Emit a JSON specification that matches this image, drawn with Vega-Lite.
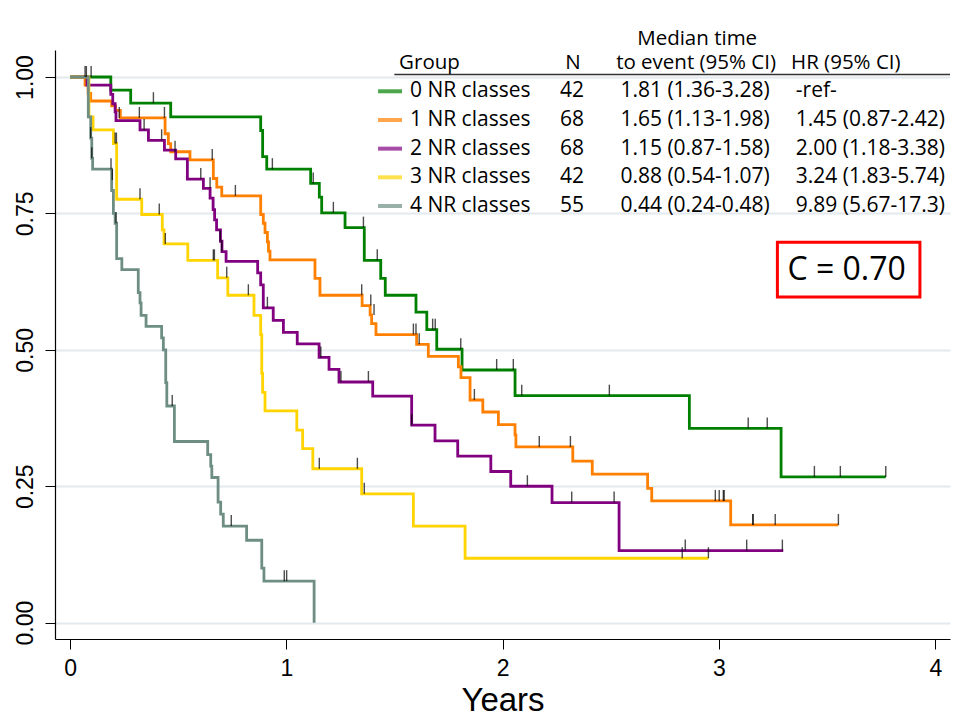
{
  "$schema": "https://vega.github.io/schema/vega-lite/v6.json",
  "width": 895,
  "height": 589,
  "autosize": {"type": "none"},
  "padding": {"left": 55, "top": 50, "right": 10, "bottom": 81},
  "background": "#ffffff",
  "config": {"view": {"stroke": null}, "font": "Liberation Sans"},
  "datasets": {
    "km": [
      {"group": "0 NR classes", "time": 0, "surv": 1},
      {"group": "0 NR classes", "time": 0.188, "surv": 0.976},
      {"group": "0 NR classes", "time": 0.280, "surv": 0.952},
      {"group": "0 NR classes", "time": 0.465, "surv": 0.927},
      {"group": "0 NR classes", "time": 0.881, "surv": 0.902},
      {"group": "0 NR classes", "time": 0.890, "surv": 0.854},
      {"group": "0 NR classes", "time": 0.909, "surv": 0.831},
      {"group": "0 NR classes", "time": 1.112, "surv": 0.805},
      {"group": "0 NR classes", "time": 1.152, "surv": 0.780},
      {"group": "0 NR classes", "time": 1.163, "surv": 0.751},
      {"group": "0 NR classes", "time": 1.271, "surv": 0.724},
      {"group": "0 NR classes", "time": 1.360, "surv": 0.664},
      {"group": "0 NR classes", "time": 1.436, "surv": 0.631},
      {"group": "0 NR classes", "time": 1.457, "surv": 0.600},
      {"group": "0 NR classes", "time": 1.599, "surv": 0.569},
      {"group": "0 NR classes", "time": 1.649, "surv": 0.537},
      {"group": "0 NR classes", "time": 1.695, "surv": 0.501},
      {"group": "0 NR classes", "time": 1.812, "surv": 0.463},
      {"group": "0 NR classes", "time": 2.057, "surv": 0.416},
      {"group": "0 NR classes", "time": 2.863, "surv": 0.356},
      {"group": "0 NR classes", "time": 3.287, "surv": 0.267},
      {"group": "0 NR classes", "time": 3.771, "surv": 0.267},

      {"group": "1 NR classes", "time": 0, "surv": 1},
      {"group": "1 NR classes", "time": 0.069, "surv": 0.985},
      {"group": "1 NR classes", "time": 0.083, "surv": 0.970},
      {"group": "1 NR classes", "time": 0.095, "surv": 0.956},
      {"group": "1 NR classes", "time": 0.192, "surv": 0.947},
      {"group": "1 NR classes", "time": 0.210, "surv": 0.939},
      {"group": "1 NR classes", "time": 0.232, "surv": 0.925},
      {"group": "1 NR classes", "time": 0.439, "surv": 0.896},
      {"group": "1 NR classes", "time": 0.454, "surv": 0.878},
      {"group": "1 NR classes", "time": 0.465, "surv": 0.863},
      {"group": "1 NR classes", "time": 0.554, "surv": 0.848},
      {"group": "1 NR classes", "time": 0.662, "surv": 0.814},
      {"group": "1 NR classes", "time": 0.678, "surv": 0.798},
      {"group": "1 NR classes", "time": 0.701, "surv": 0.782},
      {"group": "1 NR classes", "time": 0.881, "surv": 0.748},
      {"group": "1 NR classes", "time": 0.893, "surv": 0.732},
      {"group": "1 NR classes", "time": 0.901, "surv": 0.715},
      {"group": "1 NR classes", "time": 0.912, "surv": 0.698},
      {"group": "1 NR classes", "time": 0.917, "surv": 0.681},
      {"group": "1 NR classes", "time": 0.924, "surv": 0.665},
      {"group": "1 NR classes", "time": 1.132, "surv": 0.631},
      {"group": "1 NR classes", "time": 1.155, "surv": 0.600},
      {"group": "1 NR classes", "time": 1.350, "surv": 0.581},
      {"group": "1 NR classes", "time": 1.387, "surv": 0.564},
      {"group": "1 NR classes", "time": 1.394, "surv": 0.548},
      {"group": "1 NR classes", "time": 1.414, "surv": 0.528},
      {"group": "1 NR classes", "time": 1.602, "surv": 0.510},
      {"group": "1 NR classes", "time": 1.656, "surv": 0.488},
      {"group": "1 NR classes", "time": 1.795, "surv": 0.469},
      {"group": "1 NR classes", "time": 1.807, "surv": 0.449},
      {"group": "1 NR classes", "time": 1.849, "surv": 0.408},
      {"group": "1 NR classes", "time": 1.908, "surv": 0.386},
      {"group": "1 NR classes", "time": 1.980, "surv": 0.363},
      {"group": "1 NR classes", "time": 2.057, "surv": 0.344},
      {"group": "1 NR classes", "time": 2.061, "surv": 0.322},
      {"group": "1 NR classes", "time": 2.324, "surv": 0.296},
      {"group": "1 NR classes", "time": 2.414, "surv": 0.272},
      {"group": "1 NR classes", "time": 2.670, "surv": 0.246},
      {"group": "1 NR classes", "time": 2.689, "surv": 0.223},
      {"group": "1 NR classes", "time": 3.054, "surv": 0.179},
      {"group": "1 NR classes", "time": 3.552, "surv": 0.179},

      {"group": "2 NR classes", "time": 0, "surv": 1},
      {"group": "2 NR classes", "time": 0.078, "surv": 0.985},
      {"group": "2 NR classes", "time": 0.188, "surv": 0.968},
      {"group": "2 NR classes", "time": 0.197, "surv": 0.951},
      {"group": "2 NR classes", "time": 0.208, "surv": 0.936},
      {"group": "2 NR classes", "time": 0.212, "surv": 0.920},
      {"group": "2 NR classes", "time": 0.323, "surv": 0.903},
      {"group": "2 NR classes", "time": 0.362, "surv": 0.884},
      {"group": "2 NR classes", "time": 0.436, "surv": 0.866},
      {"group": "2 NR classes", "time": 0.488, "surv": 0.850},
      {"group": "2 NR classes", "time": 0.542, "surv": 0.813},
      {"group": "2 NR classes", "time": 0.616, "surv": 0.796},
      {"group": "2 NR classes", "time": 0.647, "surv": 0.778},
      {"group": "2 NR classes", "time": 0.661, "surv": 0.757},
      {"group": "2 NR classes", "time": 0.668, "surv": 0.738},
      {"group": "2 NR classes", "time": 0.677, "surv": 0.720},
      {"group": "2 NR classes", "time": 0.695, "surv": 0.699},
      {"group": "2 NR classes", "time": 0.702, "surv": 0.680},
      {"group": "2 NR classes", "time": 0.721, "surv": 0.662},
      {"group": "2 NR classes", "time": 0.867, "surv": 0.641},
      {"group": "2 NR classes", "time": 0.881, "surv": 0.619},
      {"group": "2 NR classes", "time": 0.893, "surv": 0.577},
      {"group": "2 NR classes", "time": 0.939, "surv": 0.554},
      {"group": "2 NR classes", "time": 0.986, "surv": 0.532},
      {"group": "2 NR classes", "time": 1.050, "surv": 0.511},
      {"group": "2 NR classes", "time": 1.151, "surv": 0.486},
      {"group": "2 NR classes", "time": 1.197, "surv": 0.464},
      {"group": "2 NR classes", "time": 1.243, "surv": 0.441},
      {"group": "2 NR classes", "time": 1.399, "surv": 0.415},
      {"group": "2 NR classes", "time": 1.579, "surv": 0.362},
      {"group": "2 NR classes", "time": 1.687, "surv": 0.333},
      {"group": "2 NR classes", "time": 1.792, "surv": 0.305},
      {"group": "2 NR classes", "time": 1.945, "surv": 0.277},
      {"group": "2 NR classes", "time": 2.037, "surv": 0.250},
      {"group": "2 NR classes", "time": 2.228, "surv": 0.220},
      {"group": "2 NR classes", "time": 2.538, "surv": 0.132},
      {"group": "2 NR classes", "time": 3.297, "surv": 0.132},

      {"group": "3 NR classes", "time": 0, "surv": 1},
      {"group": "3 NR classes", "time": 0.087, "surv": 0.927},
      {"group": "3 NR classes", "time": 0.106, "surv": 0.903},
      {"group": "3 NR classes", "time": 0.200, "surv": 0.878},
      {"group": "3 NR classes", "time": 0.215, "surv": 0.776},
      {"group": "3 NR classes", "time": 0.331, "surv": 0.748},
      {"group": "3 NR classes", "time": 0.426, "surv": 0.720},
      {"group": "3 NR classes", "time": 0.434, "surv": 0.694},
      {"group": "3 NR classes", "time": 0.544, "surv": 0.664},
      {"group": "3 NR classes", "time": 0.682, "surv": 0.632},
      {"group": "3 NR classes", "time": 0.729, "surv": 0.600},
      {"group": "3 NR classes", "time": 0.850, "surv": 0.563},
      {"group": "3 NR classes", "time": 0.881, "surv": 0.528},
      {"group": "3 NR classes", "time": 0.886, "surv": 0.457},
      {"group": "3 NR classes", "time": 0.890, "surv": 0.422},
      {"group": "3 NR classes", "time": 0.901, "surv": 0.388},
      {"group": "3 NR classes", "time": 1.048, "surv": 0.353},
      {"group": "3 NR classes", "time": 1.075, "surv": 0.319},
      {"group": "3 NR classes", "time": 1.122, "surv": 0.282},
      {"group": "3 NR classes", "time": 1.348, "surv": 0.236},
      {"group": "3 NR classes", "time": 1.587, "surv": 0.177},
      {"group": "3 NR classes", "time": 1.826, "surv": 0.118},
      {"group": "3 NR classes", "time": 2.951, "surv": 0.118},

      {"group": "4 NR classes", "time": 0, "surv": 1},
      {"group": "4 NR classes", "time": 0.084, "surv": 0.927},
      {"group": "4 NR classes", "time": 0.095, "surv": 0.888},
      {"group": "4 NR classes", "time": 0.100, "surv": 0.851},
      {"group": "4 NR classes", "time": 0.104, "surv": 0.831},
      {"group": "4 NR classes", "time": 0.192, "surv": 0.792},
      {"group": "4 NR classes", "time": 0.200, "surv": 0.750},
      {"group": "4 NR classes", "time": 0.208, "surv": 0.732},
      {"group": "4 NR classes", "time": 0.215, "surv": 0.667},
      {"group": "4 NR classes", "time": 0.239, "surv": 0.647},
      {"group": "4 NR classes", "time": 0.315, "surv": 0.605},
      {"group": "4 NR classes", "time": 0.323, "surv": 0.586},
      {"group": "4 NR classes", "time": 0.328, "surv": 0.563},
      {"group": "4 NR classes", "time": 0.351, "surv": 0.543},
      {"group": "4 NR classes", "time": 0.423, "surv": 0.522},
      {"group": "4 NR classes", "time": 0.431, "surv": 0.500},
      {"group": "4 NR classes", "time": 0.442, "surv": 0.440},
      {"group": "4 NR classes", "time": 0.447, "surv": 0.397},
      {"group": "4 NR classes", "time": 0.482, "surv": 0.332},
      {"group": "4 NR classes", "time": 0.636, "surv": 0.308},
      {"group": "4 NR classes", "time": 0.650, "surv": 0.287},
      {"group": "4 NR classes", "time": 0.655, "surv": 0.266},
      {"group": "4 NR classes", "time": 0.684, "surv": 0.221},
      {"group": "4 NR classes", "time": 0.696, "surv": 0.199},
      {"group": "4 NR classes", "time": 0.708, "surv": 0.177},
      {"group": "4 NR classes", "time": 0.816, "surv": 0.151},
      {"group": "4 NR classes", "time": 0.886, "surv": 0.100},
      {"group": "4 NR classes", "time": 0.896, "surv": 0.076},
      {"group": "4 NR classes", "time": 1.128, "surv": 0.0}
    ],
    "censored": [
      {"group": "0 NR classes", "time": 0.097, "surv": 1.0},
      {"group": "0 NR classes", "time": 0.385, "surv": 0.952},
      {"group": "0 NR classes", "time": 0.935, "surv": 0.831},
      {"group": "0 NR classes", "time": 1.124, "surv": 0.805},
      {"group": "0 NR classes", "time": 1.217, "surv": 0.751},
      {"group": "0 NR classes", "time": 1.356, "surv": 0.724},
      {"group": "0 NR classes", "time": 1.420, "surv": 0.664},
      {"group": "0 NR classes", "time": 1.676, "surv": 0.537},
      {"group": "0 NR classes", "time": 1.688, "surv": 0.537},
      {"group": "0 NR classes", "time": 1.806, "surv": 0.501},
      {"group": "0 NR classes", "time": 1.972, "surv": 0.463},
      {"group": "0 NR classes", "time": 2.049, "surv": 0.463},
      {"group": "0 NR classes", "time": 2.088, "surv": 0.416},
      {"group": "0 NR classes", "time": 2.493, "surv": 0.416},
      {"group": "0 NR classes", "time": 3.135, "surv": 0.356},
      {"group": "0 NR classes", "time": 3.223, "surv": 0.356},
      {"group": "0 NR classes", "time": 3.441, "surv": 0.267},
      {"group": "0 NR classes", "time": 3.561, "surv": 0.267},
      {"group": "0 NR classes", "time": 3.771, "surv": 0.267},
      {"group": "1 NR classes", "time": 0.227, "surv": 0.925},
      {"group": "1 NR classes", "time": 0.320, "surv": 0.925},
      {"group": "1 NR classes", "time": 0.436, "surv": 0.925},
      {"group": "1 NR classes", "time": 0.485, "surv": 0.863},
      {"group": "1 NR classes", "time": 0.657, "surv": 0.848},
      {"group": "1 NR classes", "time": 0.764, "surv": 0.782},
      {"group": "1 NR classes", "time": 1.348, "surv": 0.600},
      {"group": "1 NR classes", "time": 1.390, "surv": 0.581},
      {"group": "1 NR classes", "time": 1.405, "surv": 0.564},
      {"group": "1 NR classes", "time": 1.587, "surv": 0.528},
      {"group": "1 NR classes", "time": 1.599, "surv": 0.528},
      {"group": "1 NR classes", "time": 1.614, "surv": 0.510},
      {"group": "1 NR classes", "time": 1.869, "surv": 0.408},
      {"group": "1 NR classes", "time": 2.169, "surv": 0.322},
      {"group": "1 NR classes", "time": 2.313, "surv": 0.322},
      {"group": "1 NR classes", "time": 2.983, "surv": 0.223},
      {"group": "1 NR classes", "time": 3.001, "surv": 0.223},
      {"group": "1 NR classes", "time": 3.020, "surv": 0.223},
      {"group": "1 NR classes", "time": 3.024, "surv": 0.223},
      {"group": "1 NR classes", "time": 3.156, "surv": 0.179},
      {"group": "1 NR classes", "time": 3.158, "surv": 0.179},
      {"group": "1 NR classes", "time": 3.260, "surv": 0.179},
      {"group": "1 NR classes", "time": 3.552, "surv": 0.179},
      {"group": "2 NR classes", "time": 0.342, "surv": 0.903},
      {"group": "2 NR classes", "time": 0.423, "surv": 0.884},
      {"group": "2 NR classes", "time": 0.604, "surv": 0.813},
      {"group": "2 NR classes", "time": 0.647, "surv": 0.796},
      {"group": "2 NR classes", "time": 0.694, "surv": 0.699},
      {"group": "2 NR classes", "time": 0.701, "surv": 0.680},
      {"group": "2 NR classes", "time": 0.912, "surv": 0.577},
      {"group": "2 NR classes", "time": 1.159, "surv": 0.486},
      {"group": "2 NR classes", "time": 1.252, "surv": 0.441},
      {"group": "2 NR classes", "time": 1.379, "surv": 0.441},
      {"group": "2 NR classes", "time": 1.579, "surv": 0.362},
      {"group": "2 NR classes", "time": 2.114, "surv": 0.250},
      {"group": "2 NR classes", "time": 2.319, "surv": 0.220},
      {"group": "2 NR classes", "time": 2.515, "surv": 0.220},
      {"group": "2 NR classes", "time": 2.844, "surv": 0.132},
      {"group": "2 NR classes", "time": 3.128, "surv": 0.132},
      {"group": "2 NR classes", "time": 3.293, "surv": 0.132},
      {"group": "3 NR classes", "time": 0.208, "surv": 0.878},
      {"group": "3 NR classes", "time": 0.214, "surv": 0.878},
      {"group": "3 NR classes", "time": 0.323, "surv": 0.776},
      {"group": "3 NR classes", "time": 0.412, "surv": 0.748},
      {"group": "3 NR classes", "time": 0.440, "surv": 0.694},
      {"group": "3 NR classes", "time": 0.662, "surv": 0.664},
      {"group": "3 NR classes", "time": 0.667, "surv": 0.664},
      {"group": "3 NR classes", "time": 0.724, "surv": 0.632},
      {"group": "3 NR classes", "time": 0.824, "surv": 0.600},
      {"group": "3 NR classes", "time": 1.152, "surv": 0.282},
      {"group": "3 NR classes", "time": 1.328, "surv": 0.282},
      {"group": "3 NR classes", "time": 1.360, "surv": 0.236},
      {"group": "3 NR classes", "time": 2.830, "surv": 0.118},
      {"group": "3 NR classes", "time": 2.951, "surv": 0.118},
      {"group": "4 NR classes", "time": 0.069, "surv": 1.0},
      {"group": "4 NR classes", "time": 0.075, "surv": 1.0},
      {"group": "4 NR classes", "time": 0.095, "surv": 0.888},
      {"group": "4 NR classes", "time": 0.100, "surv": 0.851},
      {"group": "4 NR classes", "time": 0.189, "surv": 0.831},
      {"group": "4 NR classes", "time": 0.195, "surv": 0.811},
      {"group": "4 NR classes", "time": 0.212, "surv": 0.732},
      {"group": "4 NR classes", "time": 0.472, "surv": 0.397},
      {"group": "4 NR classes", "time": 0.745, "surv": 0.177},
      {"group": "4 NR classes", "time": 0.990, "surv": 0.076},
      {"group": "4 NR classes", "time": 1.001, "surv": 0.076}
    ],
    "table": [
      {"group": "0 NR classes", "n": "42", "median": "1.81 (1.36-3.28)", "hr": "\u00a0-ref-"},
      {"group": "1 NR classes", "n": "68", "median": "1.65 (1.13-1.98)", "hr": "1.45 (0.87-2.42)"},
      {"group": "2 NR classes", "n": "68", "median": "1.15 (0.87-1.58)", "hr": "2.00 (1.18-3.38)"},
      {"group": "3 NR classes", "n": "42", "median": "0.88 (0.54-1.07)", "hr": "3.24 (1.83-5.74)"},
      {"group": "4 NR classes", "n": "55", "median": "0.44 (0.24-0.48)", "hr": "9.89 (5.67-17.3)"}
    ]
  },
  "layer": [
    {
      "layer": [
        {
          "data": {"name": "km"},
          "mark": {"type": "line", "interpolate": "step-after", "strokeWidth": 2.8},
          "encoding": {
            "x": {
              "field": "time", "type": "quantitative",
              "scale": {"domain": [-0.07, 4.068], "nice": false, "zero": false},
              "axis": {
                "values": [0, 1, 2, 3, 4], "format": "d", "title": "Years", "grid": false,
                "domainColor": "#000000", "domainWidth": 1.2,
                "tickColor": "#000000", "tickSize": 10, "tickWidth": 1,
                "labelFont": "Liberation Sans", "labelFontSize": 23, "labelColor": "#000000",
                "labelPadding": 8, "labelFlush": false, "labelOverlap": false,
                "titleFont": "Liberation Sans", "titleFontSize": 33, "titleFontWeight": "normal",
                "titleColor": "#000000", "titleBaseline": "alphabetic", "titleY": 71
              }
            },
            "y": {
              "field": "surv", "type": "quantitative",
              "scale": {"domain": [-0.03, 1.0495], "nice": false, "zero": false},
              "axis": {
                "values": [0, 0.25, 0.5, 0.75, 1], "format": ".2f", "title": null,
                "grid": true, "gridColor": "#E3E9EE", "gridWidth": 2,
                "domainColor": "#000000", "domainWidth": 1.2,
                "tickColor": "#000000", "tickSize": 10, "tickWidth": 1,
                "labelFont": "Liberation Sans", "labelFontSize": 23, "labelColor": "#000000",
                "labelAngle": 270, "labelAlign": "center", "labelBaseline": "alphabetic",
                "labelPadding": 13, "labelFlush": false, "labelOverlap": false
              }
            },
            "color": {
              "field": "group", "type": "nominal",
              "scale": {
                "domain": ["0 NR classes", "1 NR classes", "2 NR classes", "3 NR classes", "4 NR classes"],
                "range": ["#008000", "#FF7F00", "#800080", "#FFD400", "#6E8E84"]
              },
              "legend": null
            }
          }
        },
        {
          "data": {"name": "censored"},
          "mark": {"type": "tick", "orient": "vertical", "size": 11, "thickness": 1.4, "color": "#000000", "yOffset": -5.5},
          "encoding": {
            "x": {"field": "time", "type": "quantitative"},
            "y": {"field": "surv", "type": "quantitative"}
          }
        },
        {
          "data": {"values": [{}]},
          "mark": {"type": "rule", "color": "#333333", "strokeWidth": 1.3},
          "encoding": {
            "x": {"datum": 1.499, "type": "quantitative"},
            "x2": {"datum": 4.068},
            "y": {"datum": 1.0046, "type": "quantitative"}
          }
        },
        {
          "data": {"values": [{}]},
          "mark": {"type": "text", "font": "Open Sans", "fontSize": 20.5, "color": "#000000", "align": "left", "baseline": "middle", "text": "Group"},
          "encoding": {
            "x": {"datum": 1.521, "type": "quantitative"},
            "y": {"datum": 1.0265, "type": "quantitative"}
          }
        },
        {
          "data": {"values": [{}]},
          "mark": {"type": "text", "font": "Open Sans", "fontSize": 20.5, "color": "#000000", "align": "center", "baseline": "middle", "text": "N"},
          "encoding": {
            "x": {"datum": 2.325, "type": "quantitative"},
            "y": {"datum": 1.0265, "type": "quantitative"}
          }
        },
        {
          "data": {"values": [{}]},
          "mark": {"type": "text", "font": "Open Sans", "fontSize": 20.5, "color": "#000000", "align": "center", "baseline": "middle", "text": "Median time"},
          "encoding": {
            "x": {"datum": 2.899, "type": "quantitative"},
            "y": {"datum": 1.069, "type": "quantitative"}
          }
        },
        {
          "data": {"values": [{}]},
          "mark": {"type": "text", "font": "Open Sans", "fontSize": 20.5, "color": "#000000", "align": "center", "baseline": "middle", "text": "to event (95% CI)"},
          "encoding": {
            "x": {"datum": 2.894, "type": "quantitative"},
            "y": {"datum": 1.0265, "type": "quantitative"}
          }
        },
        {
          "data": {"values": [{}]},
          "mark": {"type": "text", "font": "Open Sans", "fontSize": 20.5, "color": "#000000", "align": "left", "baseline": "middle", "text": "HR (95% CI)"},
          "encoding": {
            "x": {"datum": 3.333, "type": "quantitative"},
            "y": {"datum": 1.0265, "type": "quantitative"}
          }
        },
        {
          "data": {"values": [{}]},
          "mark": {"type": "rect", "fill": "#ffffff", "stroke": "#FF0000", "strokeWidth": 3},
          "encoding": {
            "x": {"datum": 3.270, "type": "quantitative"},
            "x2": {"datum": 3.929},
            "y": {"datum": 0.697, "type": "quantitative"},
            "y2": {"datum": 0.597}
          }
        },
        {
          "data": {"values": [{}]},
          "mark": {"type": "text", "font": "Open Sans", "fontSize": 32, "color": "#000000", "align": "center", "baseline": "middle", "text": "C = 0.70"},
          "encoding": {
            "x": {"datum": 3.590, "type": "quantitative"},
            "y": {"datum": 0.646, "type": "quantitative"}
          }
        }
      ]
    },
    {
      "data": {"name": "table"},
      "encoding": {
        "y": {
          "field": "group", "type": "nominal",
          "scale": {"type": "point", "domain": ["0 NR classes", "1 NR classes", "2 NR classes", "3 NR classes", "4 NR classes"], "range": [41.3, 156], "padding": 0},
          "axis": null
        }
      },
      "layer": [
        {
          "mark": {"type": "tick", "orient": "horizontal", "size": 24, "thickness": 4},
          "encoding": {
            "x": {"datum": 1.479, "type": "quantitative"},
            "color": {"field": "group", "type": "nominal", "legend": null}
          }
        },
        {
          "mark": {"type": "text", "font": "Open Sans", "fontSize": 21, "color": "#000000", "align": "left", "baseline": "middle"},
          "encoding": {
            "x": {"datum": 1.571, "type": "quantitative"},
            "text": {"field": "group"}
          }
        },
        {
          "mark": {"type": "text", "font": "Open Sans", "fontSize": 21, "color": "#000000", "align": "center", "baseline": "middle"},
          "encoding": {
            "x": {"datum": 2.320, "type": "quantitative"},
            "text": {"field": "n"}
          }
        },
        {
          "mark": {"type": "text", "font": "Open Sans", "fontSize": 21, "color": "#000000", "align": "center", "baseline": "middle"},
          "encoding": {
            "x": {"datum": 2.889, "type": "quantitative"},
            "text": {"field": "median"}
          }
        },
        {
          "mark": {"type": "text", "font": "Open Sans", "fontSize": 21, "color": "#000000", "align": "left", "baseline": "middle"},
          "encoding": {
            "x": {"datum": 3.355, "type": "quantitative"},
            "text": {"field": "hr"}
          }
        }
      ]
    }
  ],
  "resolve": {"scale": {"y": "independent"}}
}
